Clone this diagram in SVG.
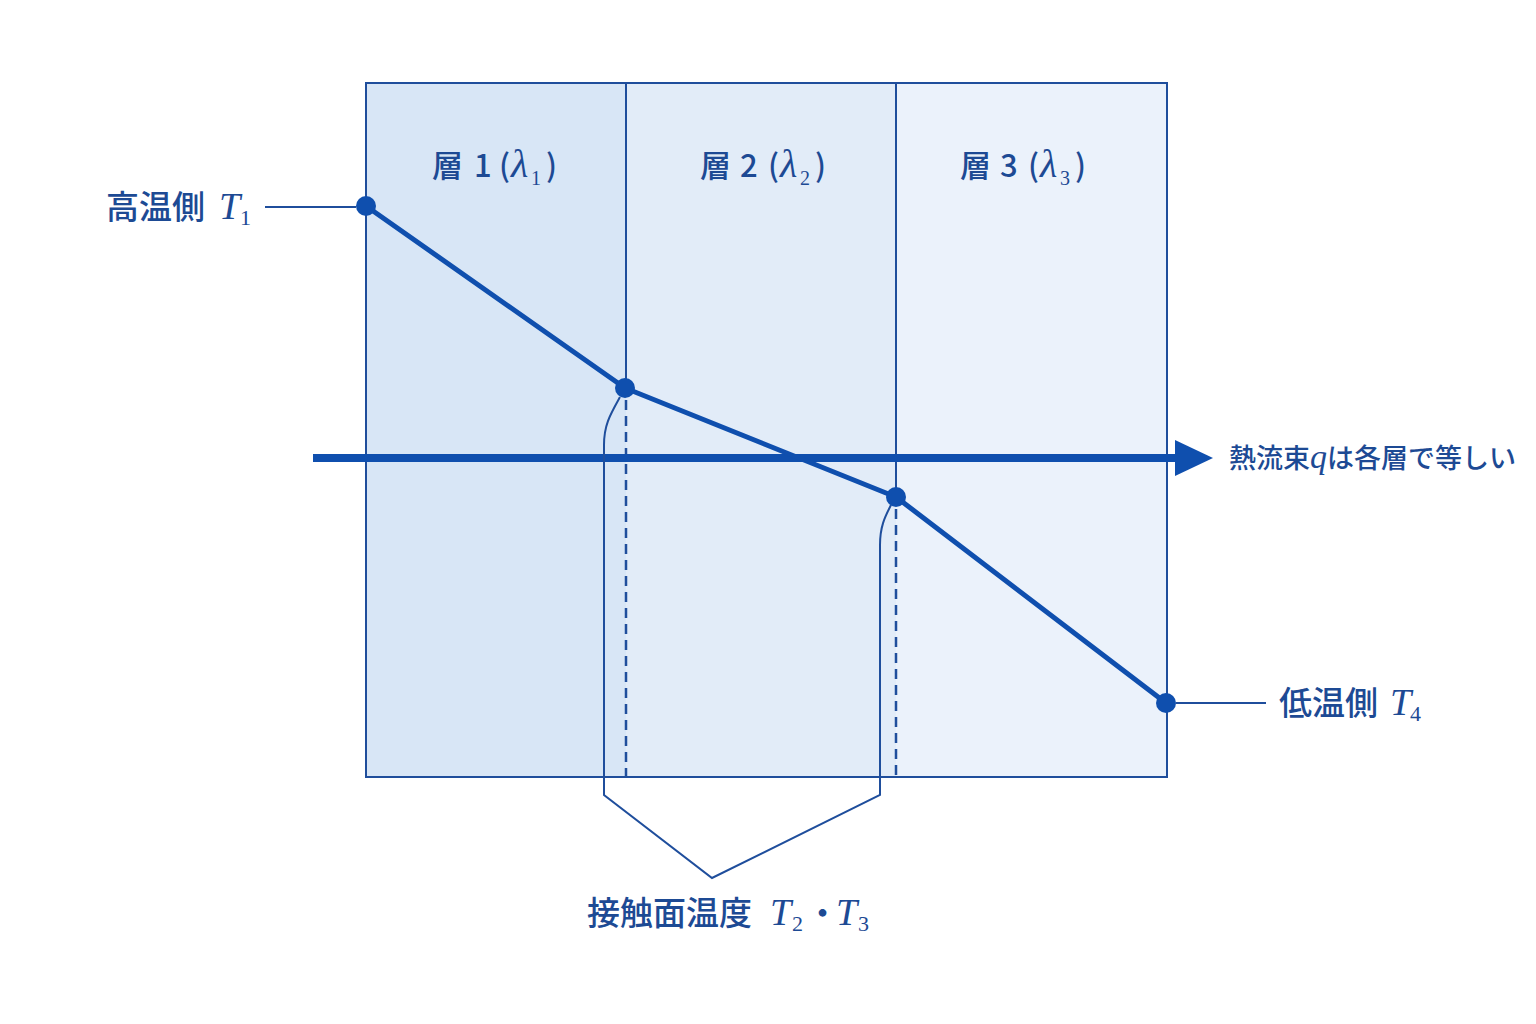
<svg xmlns="http://www.w3.org/2000/svg" width="1536" height="1024" viewBox="0 0 1536 1024">
<defs>
<style>
.jp{font-family:"Noto Sans CJK JP","Noto Sans",sans-serif;font-weight:500;fill:#1d4a94}
.it{font-family:"Liberation Serif",serif;font-style:italic;fill:#1d4a94}
.sub{font-family:"Liberation Serif",serif;font-style:normal;fill:#1d4a94}
.bd{fill:none;stroke:#1f4e9c;stroke-width:2}
.thin{fill:none;stroke:#1f4e9c;stroke-width:2}
.dash{fill:none;stroke:#1f4e9c;stroke-width:2.5;stroke-dasharray:10 6}
.dot{fill:#0f4fae}
</style>
</defs>
<rect width="1536" height="1024" fill="#ffffff"/>
<g id="layer1"><rect x="366" y="83" width="260" height="694" fill="#d8e6f6"/></g>
<g id="layer2"><rect x="626" y="83" width="270" height="694" fill="#e2ecf8"/></g>
<g id="layer3"><rect x="896" y="83" width="271" height="694" fill="#ebf2fb"/></g>
<g id="frame">
<rect x="366" y="83" width="801" height="694" class="bd"/>
<line x1="626" y1="83" x2="626" y2="388" class="bd"/>
<line x1="896" y1="83" x2="896" y2="497" class="bd"/>
</g>
<g id="connectors">
<line x1="626" y1="400" x2="626" y2="777" class="dash"/>
<line x1="896" y1="509" x2="896" y2="777" class="dash"/>
<line x1="313" y1="458" x2="1178" y2="458" stroke="#0f4fae" stroke-width="8"/>
<polygon points="1175,440 1213,458 1175,476" fill="#0f4fae"/>
<polyline points="366,206 625,388 896,497 1166,703" fill="none" stroke="#0f4fae" stroke-width="5" stroke-linejoin="round"/>
<line x1="265" y1="207" x2="356" y2="207" class="thin"/>
<line x1="1176" y1="703" x2="1266" y2="703" class="thin"/>
<path d="M620,397 C610,415 604,425 604,445 L604,795 L712,878 L880,795 L880,545 C880,525 886,515 891,505" class="thin"/>
</g>
<g id="points">
<circle cx="366" cy="206" r="10" class="dot"/>
<circle cx="625" cy="388" r="10" class="dot"/>
<circle cx="896" cy="497" r="10" class="dot"/>
<circle cx="1166" cy="703" r="10" class="dot"/>
</g>
<g id="labels">
<text y="177" font-size="31"><tspan class="jp" x="432">層</tspan><tspan class="jp" x="474">1</tspan><tspan class="jp" x="499">(</tspan><tspan class="it" x="511" font-size="40">λ</tspan><tspan class="sub" font-size="20" x="531" dy="8">1</tspan><tspan class="jp" x="546" dy="-8">)</tspan></text>
<text y="177" font-size="31"><tspan class="jp" x="700">層</tspan><tspan class="jp" x="740">2</tspan><tspan class="jp" x="768">(</tspan><tspan class="it" x="780" font-size="40">λ</tspan><tspan class="sub" font-size="20" x="800" dy="8">2</tspan><tspan class="jp" x="815" dy="-8">)</tspan></text>
<text y="177" font-size="31"><tspan class="jp" x="960">層</tspan><tspan class="jp" x="1000">3</tspan><tspan class="jp" x="1028">(</tspan><tspan class="it" x="1040" font-size="40">λ</tspan><tspan class="sub" font-size="20" x="1060" dy="8">3</tspan><tspan class="jp" x="1075" dy="-8">)</tspan></text>
<text y="219" font-size="33"><tspan class="jp" x="106">高温側</tspan><tspan class="it" x="219" font-size="38">T</tspan><tspan class="sub" font-size="22" x="240" dy="6">1</tspan></text>
<text y="715" font-size="33"><tspan class="jp" x="1279">低温側</tspan><tspan class="it" x="1390" font-size="38">T</tspan><tspan class="sub" font-size="22" x="1410" dy="6">4</tspan></text>
<text x="1229" y="468" font-size="27"><tspan class="jp">熱流束</tspan><tspan class="it" font-size="34">q</tspan><tspan class="jp">は各層で等しい</tspan></text>
<text y="925" font-size="33"><tspan class="jp" x="587">接触面温度</tspan><tspan class="it" x="770" font-size="38">T</tspan><tspan class="sub" font-size="22" x="792" dy="6">2</tspan><tspan class="jp" x="806" dy="-6">・</tspan><tspan class="it" x="836" font-size="38">T</tspan><tspan class="sub" font-size="22" x="858" dy="6">3</tspan></text>
</g>
</svg>
